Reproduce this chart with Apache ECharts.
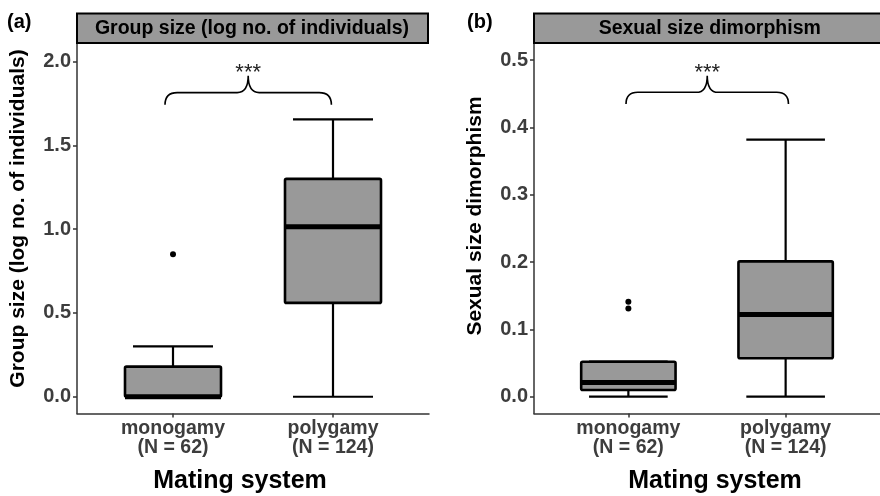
<!DOCTYPE html>
<html><head><meta charset="utf-8">
<script src="https://cdn.jsdelivr.net/npm/echarts@6/dist/echarts.min.js"></script>
<style>html,body{margin:0;padding:0;background:#fff}#c{width:880px;height:496px}</style>
</head><body><div id="c"></div>
<script>
// ---- data ----
const categories = ['monogamy\n(N = 62)', 'polygamy\n(N = 124)'];
const catPositions = [1, 2];
// [min, Q1, median, Q3, max]
const groupSizeStats = [[0, 0, 0, 0.18, 0.30], [0, 0.56, 1.015, 1.30, 1.655]];
const groupSizeOutliers = [[1, 0.85]];
const ssdStats = [[0, 0.010, 0.021, 0.052, 0.052], [0, 0.057, 0.122, 0.201, 0.382]];
const ssdOutliers = [[1, 0.141], [1, 0.131]];
const groupSizeTicks = [0, 0.5, 1.0, 1.5, 2.0];
const ssdTicks = [0, 0.1, 0.2, 0.3, 0.4, 0.5];
// brace: [x1, x2, yEnd, yMid, yTip]
const groupSizeBrace = [0.95, 1.99, 1.742, 1.815, 1.915];
const ssdBrace = [0.985, 2.018, 0.4347, 0.4522, 0.477];
const signif = '***';
const panelTitles = ['Group size (log no. of individuals)', 'Sexual size dimorphism'];
const yTitles = ['Group size (log no. of individuals)', 'Sexual size dimorphism'];
const xTitle = 'Mating system';
const panelTags = ['(a)', '(b)'];

// ---- layout ----
const FONT = '"Liberation Sans", Arial, sans-serif';
const grids = [
  {left: 77, top: 44, width: 352, height: 369.5},
  {left: 534, top: 44, width: 353.5, height: 369.5}
];
const yRanges = [[-0.1, 2.105], [-0.025, 0.524]];
const yTickSets = [groupSizeTicks, ssdTicks];
const statSets = [groupSizeStats, ssdStats];
const outlierSets = [groupSizeOutliers, ssdOutliers];
const braceSets = [groupSizeBrace, ssdBrace];

const axisLineStyle = {color: '#333', width: 1.5};
const tickLabelStyle = {color: '#3d3d3d', fontWeight: 'bold', fontFamily: FONT};

function boxItem(params, api) {
  const x = api.value(0);
  const mn = api.value(1), q1 = api.value(2), md = api.value(3), q3 = api.value(4), mx = api.value(5);
  const hb = 0.3, hc = 0.25;
  const tl = api.coord([x - hb, q3]), br = api.coord([x + hb, q1]);
  const line = (a, b, w) => ({type: 'line', shape: {x1: a[0], y1: a[1], x2: b[0], y2: b[1]},
    style: {stroke: '#000', lineWidth: w}});
  return {type: 'group', children: [
    line(api.coord([x, q3]), api.coord([x, mx]), 2.2),
    line(api.coord([x, q1]), api.coord([x, mn]), 2.2),
    line(api.coord([x - hc, mx]), api.coord([x + hc, mx]), 2.2),
    line(api.coord([x - hc, mn]), api.coord([x + hc, mn]), 2.2),
    {type: 'rect', shape: {x: tl[0], y: tl[1], width: br[0] - tl[0], height: br[1] - tl[1], r: 1.5},
      style: {fill: '#999999', stroke: '#000', lineWidth: 2.6}},
    line(api.coord([x - hb, md]), api.coord([x + hb, md]), 5)
  ]};
}

function braceItem(params, api) {
  const x1 = api.value(0), x2 = api.value(1), ye = api.value(2), ym = api.value(3), yt = api.value(4);
  const xc = (x1 + x2) / 2;
  const a = api.coord([x1, ye]), b = api.coord([x2, ye]);
  const m = api.coord([xc, ym]), t = api.coord([xc, yt]);
  const r = a[1] - m[1];
  const r2 = 11;
  const path = `M${a[0]},${a[1]} Q${a[0]},${m[1]} ${a[0] + r},${m[1]} L${m[0] - r2},${m[1]} ` +
    `Q${m[0]},${m[1]} ${m[0]},${t[1]} Q${m[0]},${m[1]} ${m[0] + r2},${m[1]} L${b[0] - r},${m[1]} ` +
    `Q${b[0]},${m[1]} ${b[0]},${b[1]}`;
  return {type: 'group', children: [
    {type: 'path', shape: {pathData: path}, style: {fill: 'none', stroke: '#000', lineWidth: 1.6}},
    {type: 'text', style: {text: signif, x: t[0], y: t[1] - 3, align: 'center', verticalAlign: 'middle',
      fontSize: 22, fontFamily: FONT, fill: '#222'}}
  ]};
}

const xAxes = [], yAxes = [], series = [], graphics = [];
grids.forEach((g, i) => {
  xAxes.push({type: 'value', gridIndex: i, min: 0.4, max: 2.6,
    splitLine: {show: false},
    axisLine: {show: true, onZero: false, lineStyle: axisLineStyle},
    axisTick: {show: true, customValues: catPositions, length: 4, lineStyle: axisLineStyle},
    axisLabel: Object.assign({customValues: catPositions, margin: 6, lineHeight: 19, fontSize: 19.5,
      formatter: v => categories[Math.round(v) - 1]}, tickLabelStyle)
  });
  yAxes.push({type: 'value', gridIndex: i, min: yRanges[i][0], max: yRanges[i][1],
    splitLine: {show: false},
    axisLine: {show: true, onZero: false, lineStyle: axisLineStyle},
    axisTick: {show: true, customValues: yTickSets[i], length: 4, lineStyle: axisLineStyle},
    axisLabel: Object.assign({customValues: yTickSets[i], margin: 6, fontSize: 20,
      formatter: v => v.toFixed(1)}, tickLabelStyle)
  });
  series.push({type: 'custom', xAxisIndex: i, yAxisIndex: i, renderItem: boxItem,
    encode: {x: 0, y: [1, 2, 3, 4, 5]},
    data: statSets[i].map((s, k) => [catPositions[k]].concat(s)), z: 2});
  series.push({type: 'scatter', xAxisIndex: i, yAxisIndex: i, symbolSize: 6,
    itemStyle: {color: '#000', opacity: 1}, data: outlierSets[i], z: 3});
  series.push({type: 'custom', xAxisIndex: i, yAxisIndex: i, renderItem: braceItem,
    encode: {x: [0, 1], y: [2, 3, 4]}, data: [braceSets[i]], z: 3});
  // strip
  graphics.push({type: 'rect', shape: {x: g.left, y: 13.5, width: g.width - 1, height: 29.5},
    style: {fill: '#999999', stroke: '#000', lineWidth: 2}, z: 10});
  graphics.push({type: 'text', x: g.left + g.width / 2 - 1, y: 28.5, z: 11,
    style: {text: panelTitles[i], align: 'center', verticalAlign: 'middle', fontSize: 19.5,
      fontWeight: 'bold', fontFamily: FONT, fill: '#000'}});
  // panel tag
  graphics.push({type: 'text', x: i === 0 ? 7 : 467, y: 22, z: 11,
    style: {text: panelTags[i], align: 'left', verticalAlign: 'middle', fontSize: 20,
      fontWeight: 'bold', fontFamily: FONT, fill: '#000'}});
  // y title
  graphics.push({type: 'text', x: i === 0 ? 18 : 475, y: i === 0 ? 218.5 : 216, rotation: Math.PI / 2, z: 11,
    style: {text: yTitles[i], align: 'center', verticalAlign: 'middle', fontSize: 21,
      fontWeight: 'bold', fontFamily: FONT, fill: '#000'}});
  // x title
  graphics.push({type: 'text', x: i === 0 ? 240 : 715, y: 481, z: 11,
    style: {text: xTitle, align: 'center', verticalAlign: 'middle', fontSize: 25,
      fontWeight: 'bold', fontFamily: FONT, fill: '#000'}});
});

const chart = echarts.init(document.getElementById('c'), null, {renderer: 'canvas'});
chart.setOption({
  animation: false,
  backgroundColor: '#fff',
  grid: grids,
  xAxis: xAxes,
  yAxis: yAxes,
  series: series,
  graphic: graphics
});
</script></body></html>
